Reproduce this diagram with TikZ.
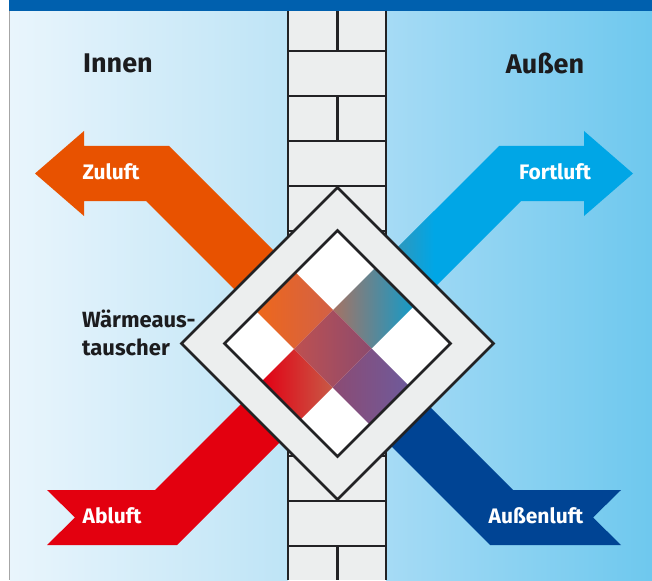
\documentclass[tikz,border=0pt]{standalone}
\usepackage{fontspec}
\setmainfont{Fira Sans}
\usetikzlibrary{positioning, calc}

\definecolor{innenhell}{RGB}{233,245,252}
\definecolor{innendunkel}{RGB}{190,228,246}
\definecolor{aussenhell}{RGB}{166,219,245}
\definecolor{aussendunkel}{RGB}{110,200,238}
\definecolor{balken}{RGB}{0,96,174}
\definecolor{mauergrau}{RGB}{236,238,238}
\definecolor{mauerlinie}{RGB}{34,34,36}
\definecolor{zuluftfarbe}{RGB}{232,82,0}
\definecolor{abluftfarbe}{RGB}{227,0,15}
\definecolor{fortluftfarbe}{RGB}{0,166,230}
\definecolor{fortlufttuerkis}{RGB}{50,150,185}
\definecolor{aussenluftfarbe}{RGB}{0,68,148}
\definecolor{textschwarz}{RGB}{28,28,30}

\tikzset{
  lueftung/.style={
	x=1pt, y=-1pt, % pixel grid, y pointing down
	line join=miter,
  },
  mauer/.style={draw=mauerlinie, line width=2.6pt}, % wall and exchanger outlines
  luftlabel/.style={text=white, font=\bfseries\fontsize{21}{25}\selectfont},
  seitenlabel/.style={text=textschwarz, font=\bfseries\fontsize{27}{32}\selectfont},
  tauscherlabel/.style={text=textschwarz, font=\bfseries\fontsize{22}{28}\selectfont, inner sep=0pt},
}

\begin{document}
\begin{tikzpicture}[lueftung]
	  \useasboundingbox (0,0) rectangle (652,580);
	  \fill[white] (0,0) rectangle (652,580);
	  % inside / outside
	  \shade[left color=innenhell, right color=innendunkel] (10,11) rectangle (288,580);
	  \shade[left color=aussenhell, right color=aussendunkel] (386,11) rectangle (652,580);
	  \fill[balken] (9,0) rectangle (652,11);
	  \draw[gray!70, line width=0.8pt] (9.5,11) -- (9.5,580);

	  % wall with bricks
	  \fill[mauergrau] (288,11) rectangle (386,580);
	  \foreach \y in {51,96,...,546}
		\draw[mauer] (288,\y) -- (386,\y);
	  \foreach \y/\z in {11/51, 96/141, 186/231, 276/321, 366/411, 456/501, 546/580}
		\draw[mauer] (337.5,\y) -- (337.5,\z);
	  \draw[mauer] (288,11) -- (288,580) (386,11) -- (386,580);

	  % air streams
	  \fill[zuluftfarbe] (35,173.5) -- (84,131) -- (84,146) -- (169,146) -- (291.5,268.5)
		-- (252.5,307.5) -- (146,201) -- (84,201) -- (84,216) -- cycle;
	  \fill[fortluftfarbe] (633,173.5) -- (584,131) -- (584,146) -- (499,146) -- (380,265)
		-- (418.5,303.5) -- (521,201) -- (584,201) -- (584,216) -- cycle;
	  \begin{scope}
		\clip (499,146) -- (380,265) -- (418.5,303.5) -- (521,201) -- cycle;
		\shade[left color=fortlufttuerkis, right color=fortluftfarbe] (394,150) rectangle (434,320);
	  \end{scope}
	  \fill[abluftfarbe] (47,490) -- (155,490) -- (259,386) -- (297.5,424.5) -- (177,545)
		-- (47,545) -- (75,517.5) -- cycle;
	  \fill[aussenluftfarbe] (621,490) -- (513,490) -- (412.5,389.5) -- (373.5,428.5)
		-- (490,545) -- (621,545) -- (593,517.5) -- cycle;

	  % heat exchanger
	  \draw[mauer, fill=mauergrau] (337.5,187.5) -- (493.5,343.5) -- (337.5,499.5) -- (181.5,343.5) -- cycle;
	  \fill[white] (337.5,230.5) -- (450.5,343.5) -- (337.5,456.5) -- (224.5,343.5) -- cycle;
	  \shade[left color={rgb,255:red,238;green,104;blue,28}, right color={rgb,255:red,210;green,96;blue,70}]
		(295.5,272.5) -- (333,310) -- (294,349) -- (256.5,311.5) -- cycle;
	  \shade[left color={rgb,255:red,140;green,75;blue,115}, right color={rgb,255:red,110;green,90;blue,155}]
		(371.5,348.5) -- (408.5,385.5) -- (369.5,424.5) -- (332.5,387.5) -- cycle;
	  \shade[left color={rgb,255:red,165;green,115;blue,100}, right color={rgb,255:red,20;green,155;blue,200}]
		(375,268) -- (413.5,306.5) -- (371.5,348.5) -- (333,310) -- cycle;
	  \shade[left color={rgb,255:red,226;green,0;blue,20}, right color={rgb,255:red,200;green,90;blue,70}]
		(294,349) -- (332.5,387.5) -- (300.5,419.5) -- (262,381) -- cycle;
	  \shade[left color={rgb,255:red,190;green,80;blue,80}, right color={rgb,255:red,140;green,75;blue,110}]
		(333,310) -- (371.5,348.5) -- (332.5,387.5) -- (294,349) -- cycle;
	  \draw[mauer] (337.5,230.5) -- (450.5,343.5) -- (337.5,456.5) -- (224.5,343.5) -- cycle;

	  % labels
	  \node[seitenlabel] (innen) at (118,63) {Innen};
	  \node[seitenlabel] (aussen) at (545,63) {Außen};
	  \node[luftlabel] (zuluft) at (111,172) {Zuluft};
	  \node[luftlabel] (fortluft) at (555,172) {Fortluft};
	  \node[luftlabel] (abluft) at (112,516) {Abluft};
	  \node[luftlabel] (aussenluft) at (536,516) {Außenluft};
	  \node[tauscherlabel, anchor=base west] (tauscher1) at (82,327) {Wärmeaus-};
	  \node[tauscherlabel, anchor=base west] (tauscher2) at ($(tauscher1.base west)+(0,28)$) {tauscher};
\end{tikzpicture}
\end{document}
